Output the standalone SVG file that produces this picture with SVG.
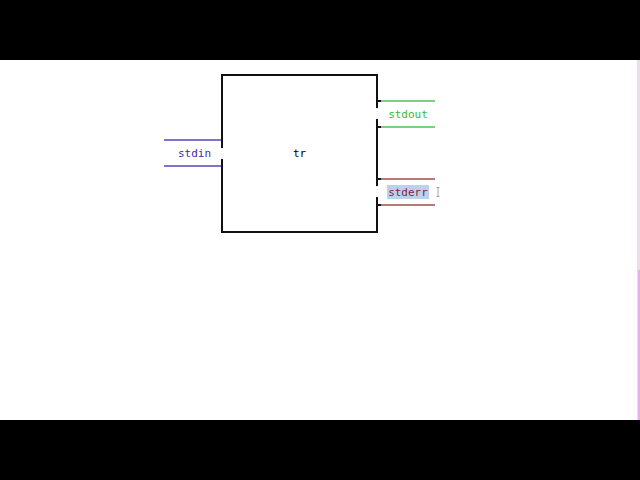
<svg xmlns="http://www.w3.org/2000/svg" width="640" height="480" viewBox="0 0 640 480">
<style>
.mono{font-family:"DejaVu Sans Mono","Liberation Mono",monospace;font-size:11px}
.border{stroke:#111;stroke-width:2;fill:none}
.gap{stroke:#e2e2e2;stroke-width:1;stroke-dasharray:1 2}
.tick{stroke:#111;stroke-width:2}
.in{stroke:#5346c0;stroke-width:1.3}
.out{stroke:#52c252;stroke-width:1.3}
.err{stroke:#a24c4c;stroke-width:1.3}
</style>
<rect x="0" y="0" width="640" height="480" fill="#fff"/>
<rect x="0" y="0" width="640" height="60" fill="#000"/>
<rect x="0" y="420" width="640" height="60" fill="#000"/>
<rect x="637" y="60" width="3" height="360" fill="#e8e0e8"/>
<rect x="638" y="270" width="2" height="150" fill="#f0a8f0"/>

<g id="connectors">
  <line class="in" x1="164" y1="140" x2="222" y2="140"/>
  <line class="in" x1="164" y1="166" x2="222" y2="166"/>
  <line class="out" x1="377" y1="101" x2="435" y2="101"/>
  <line class="out" x1="377" y1="127" x2="435" y2="127"/>
  <line class="err" x1="377" y1="179" x2="435" y2="179"/>
  <line class="err" x1="377" y1="205" x2="435" y2="205"/>
</g>

<g id="node-tr">
  <path class="border" d="M222,148 V75 H377 V108 M377,119 V186 M377,197 V232 H222 V159"/>
  <line class="gap" x1="222" y1="148" x2="222" y2="159"/>
  <line class="gap" x1="377" y1="108" x2="377" y2="119"/>
  <line class="gap" x1="377" y1="186" x2="377" y2="197"/>
  <text class="mono" x="299.5" y="157" text-anchor="middle" fill="#000">tr</text>
</g>

<g id="port-stdin">
  <text class="mono" x="194.5" y="157" text-anchor="middle" fill="#3a2fa0">stdin</text>
</g>

<g id="port-stdout">
  <line class="tick" x1="377" y1="101" x2="381" y2="101"/>
  <line class="tick" x1="377" y1="127" x2="381" y2="127"/>
  <text class="mono" x="408" y="118" text-anchor="middle" fill="#3cb83c">stdout</text>
</g>

<g id="port-stderr">
  <line class="tick" x1="377" y1="179" x2="381" y2="179"/>
  <line class="tick" x1="377" y1="205" x2="381" y2="205"/>
  <rect x="387" y="185" width="42" height="14" fill="#b9d3ef"/>
  <text class="mono" x="408" y="196" text-anchor="middle" fill="#8b2035">stderr</text>
  <path d="M436.5,187.5 H439.5 M438,187.5 V196.5 M436.5,196.5 H439.5" stroke="#999" stroke-width="0.9" fill="none"/>
</g>
</svg>
